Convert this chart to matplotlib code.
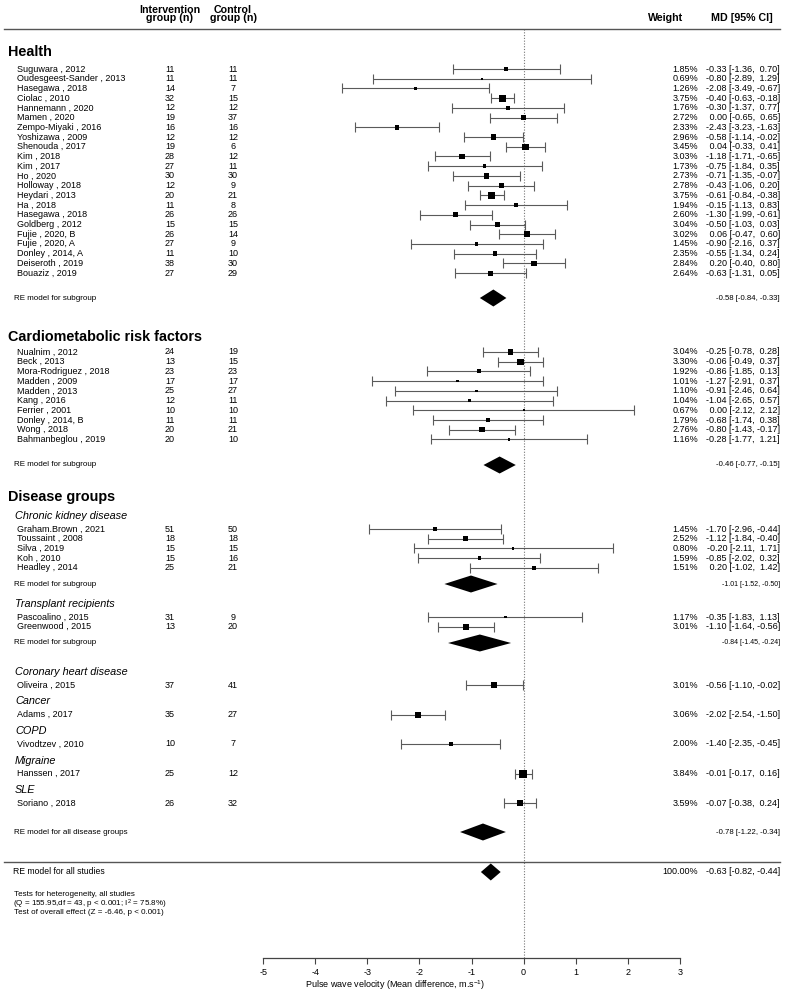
import matplotlib
matplotlib.use("Agg")
import matplotlib.pyplot as plt
import numpy as np

plt.rcParams['font.family'] = ['Liberation Sans', 'DejaVu Sans']
plt.rcParams['mathtext.default'] = 'regular'

# ---- data ----
health_names = ["Suguwara , 2012", "Oudesgeest-Sander , 2013", "Hasegawa , 2018", "Ciolac , 2010",
                "Hannemann , 2020", "Mamen , 2020", "Zempo-Miyaki , 2016", "Yoshizawa , 2009",
                "Shenouda , 2017", "Kim , 2018", "Kim , 2017", "Ho , 2020", "Holloway , 2018",
                "Heydari , 2013", "Ha , 2018", "Hasegawa , 2018", "Goldberg , 2012", "Fujie , 2020, B",
                "Fujie , 2020, A", "Donley , 2014, A", "Deiseroth , 2019", "Bouaziz , 2019"]
health_ni = [11, 11, 14, 32, 12, 19, 16, 12, 19, 28, 27, 30, 12, 20, 11, 26, 15, 26, 27, 11, 38, 27]
health_nc = [11, 11, 7, 15, 12, 37, 16, 12, 6, 12, 11, 30, 9, 21, 8, 26, 15, 14, 9, 10, 30, 29]
health_w = [1.85, 0.69, 1.26, 3.75, 1.76, 2.72, 2.33, 2.96, 3.45, 3.03, 1.73, 2.73, 2.78, 3.75,
            1.94, 2.60, 3.04, 3.02, 1.45, 2.35, 2.84, 2.64]
health_md = [-0.33, -0.80, -2.08, -0.40, -0.30, 0.00, -2.43, -0.58, 0.04, -1.18, -0.75, -0.71,
             -0.43, -0.61, -0.15, -1.30, -0.50, 0.06, -0.90, -0.55, 0.20, -0.63]
health_lo = [-1.36, -2.89, -3.49, -0.63, -1.37, -0.65, -3.23, -1.14, -0.33, -1.71, -1.84, -1.35,
             -1.06, -0.84, -1.13, -1.99, -1.03, -0.47, -2.16, -1.34, -0.40, -1.31]
health_hi = [0.70, 1.29, -0.67, -0.18, 0.77, 0.65, -1.63, -0.02, 0.41, -0.65, 0.35, -0.07,
             0.20, -0.38, 0.83, -0.61, 0.03, 0.60, 0.37, 0.24, 0.80, 0.05]
health_re = (-0.58, -0.84, -0.33)

cardio_names = ["Nualnim , 2012", "Beck , 2013", "Mora-Rodriguez , 2018", "Madden , 2009",
                "Madden , 2013", "Kang , 2016", "Ferrier , 2001", "Donley , 2014, B",
                "Wong , 2018", "Bahmanbeglou , 2019"]
cardio_ni = [24, 13, 23, 17, 25, 12, 10, 11, 20, 20]
cardio_nc = [19, 15, 23, 17, 27, 11, 10, 11, 21, 10]
cardio_w = [3.04, 3.30, 1.92, 1.01, 1.10, 1.04, 0.67, 1.79, 2.76, 1.16]
cardio_md = [-0.25, -0.06, -0.86, -1.27, -0.91, -1.04, 0.00, -0.68, -0.80, -0.28]
cardio_lo = [-0.78, -0.49, -1.85, -2.91, -2.46, -2.65, -2.12, -1.74, -1.43, -1.77]
cardio_hi = [0.28, 0.37, 0.13, 0.37, 0.64, 0.57, 2.12, 0.38, -0.17, 1.21]
cardio_re = (-0.46, -0.77, -0.15)

ckd_names = ["Graham.Brown , 2021", "Toussaint , 2008", "Silva , 2019", "Koh , 2010", "Headley , 2014"]
ckd_ni = [51, 18, 15, 15, 25]
ckd_nc = [50, 18, 15, 16, 21]
ckd_w = [1.45, 2.52, 0.80, 1.59, 1.51]
ckd_md = [-1.70, -1.12, -0.20, -0.85, 0.20]
ckd_lo = [-2.96, -1.84, -2.11, -2.02, -1.02]
ckd_hi = [-0.44, -0.40, 1.71, 0.32, 1.42]
ckd_re = (-1.01, -1.52, -0.50)

tx_names = ["Pascoalino , 2015", "Greenwood , 2015"]
tx_ni = [31, 13]
tx_nc = [9, 20]
tx_w = [1.17, 3.01]
tx_md = [-0.35, -1.10]
tx_lo = [-1.83, -1.64]
tx_hi = [1.13, -0.56]
tx_re = (-0.84, -1.45, -0.24)

single_groups = ["Coronary heart disease", "Cancer", "COPD", "Migraine", "SLE"]
single_names = ["Oliveira , 2015", "Adams , 2017", "Vivodtzev , 2010", "Hanssen , 2017", "Soriano , 2018"]
single_ni = [37, 35, 10, 25, 26]
single_nc = [41, 27, 7, 12, 32]
single_w = [3.01, 3.06, 2.00, 3.84, 3.59]
single_md = [-0.56, -2.02, -1.40, -0.01, -0.07]
single_lo = [-1.10, -2.54, -2.35, -0.17, -0.38]
single_hi = [-0.02, -1.50, -0.45, 0.16, 0.24]

disease_re = (-0.78, -1.22, -0.34)
overall_re = (-0.63, -0.82, -0.44)

xticks = [-5, -4, -3, -2, -1, 0, 1, 2, 3]

# ---- figure: one axes, x in MD units, y in pixel rows from the top ----
W, H = 790, 993
AXIS_Y = 958
PX_PER_UNIT = 52.1
X0_PX = 523.6

fig = plt.figure(figsize=(W / 100, H / 100), dpi=100)
ax = fig.add_axes([0, (H - AXIS_Y) / H, 1, AXIS_Y / H])
ax.set_xlim(-X0_PX / PX_PER_UNIT, (W - X0_PX) / PX_PER_UNIT)
ax.set_ylim(AXIS_Y, 0)
for s in ["top", "left", "right"]:
    ax.spines[s].set_visible(False)
ax.spines["bottom"].set_bounds(-5, 3)
ax.spines["bottom"].set_color("#444444")
ax.spines["bottom"].set_linewidth(0.9)
ax.set_yticks([])
ax.set_xticks(xticks)
ax.set_xticklabels([str(t) for t in xticks], fontsize=6.5)
ax.tick_params(axis="x", length=4, width=0.8, color="#444444", pad=3.5)
ax.set_xlabel("Pulse wave velocity (Mean difference, m.s$^{-1}$)", fontsize=6.5, labelpad=0.5)

yt = ax.get_yaxis_transform()   # x in axes fraction, y in data (pixels)


def col(px):
    return px / W


TXT = 6.5
ROW = 9.72


def study_rows(y0, names, ni, nc, w, md, lo, hi):
    ys = y0 + ROW * np.arange(len(names))
    for y, nm, a, b, wt, m, l, h in zip(ys, names, ni, nc, w, md, lo, hi):
        ax.text(col(17), y, nm, transform=yt, fontsize=TXT, va="center", ha="left")
        ax.text(col(170), y, str(a), transform=yt, fontsize=TXT, va="center", ha="center")
        ax.text(col(233), y, str(b), transform=yt, fontsize=TXT, va="center", ha="center")
        ax.text(col(698), y, f"{wt:.2f}%", transform=yt, fontsize=TXT, va="center", ha="right")
        ax.text(col(780), y, f"{m:5.2f} [{l:5.2f}, {h:5.2f}]", transform=yt, fontsize=TXT,
                va="center", ha="right")
    md = np.array(md)
    ax.errorbar(md, ys, xerr=[md - np.array(lo), np.array(hi) - md], fmt="none",
                ecolor="#5a5a5a", elinewidth=0.8, capsize=3.6, capthick=0.8)
    side_px = 0.9 + 1.6 * np.array(w)
    ax.scatter(md, ys, marker="s", s=(side_px * 0.72) ** 2, color="black", zorder=3, linewidths=0)
    return ys


def diamond(y, est, label, fs_label=5.8, fs_val=5.6, half_h=8.5):
    m, l, h = est
    ax.fill([l, m, h, m], [y, y - half_h, y, y + half_h], color="black", lw=0, zorder=3)
    ax.text(col(14), y, label, transform=yt, fontsize=fs_label, va="center", ha="left")
    ax.text(col(780), y, f"{m:.2f} [{l:.2f}, {h:.2f}]", transform=yt, fontsize=fs_val,
            va="center", ha="right")


def section(y, label):
    ax.text(col(8), y, label, transform=yt, fontsize=10.4, fontweight="bold", va="center", ha="left")


def subgroup(y, label):
    ax.text(col(15), y, label, transform=yt, fontsize=7.8, style="italic", va="center", ha="left")


# header
ax.text(col(170), 14, "Intervention\ngroup (n)", transform=yt, fontsize=7.7, fontweight="bold",
        ha="center", va="center", linespacing=0.85)
ax.text(col(233), 14, "Control\ngroup (n)", transform=yt, fontsize=7.7, fontweight="bold",
        ha="center", va="center", linespacing=0.85)
ax.text(col(666), 18, "Weight", transform=yt, fontsize=7.7, fontweight="bold", ha="center", va="center")
ax.text(col(742), 18, "MD [95% CI]", transform=yt, fontsize=7.7, fontweight="bold", ha="center", va="center")
ax.plot([col(4), col(780)], [29, 29], transform=yt, color="#555555", lw=1.0, clip_on=False)

# zero line
ax.plot([0, 0], [29, AXIS_Y], color="#777777", lw=0.8, ls=(0, (1, 1.5)), zorder=1)

# Health
section(52, "Health")
study_rows(69, health_names, health_ni, health_nc, health_w, health_md, health_lo, health_hi)
diamond(298, health_re, "RE model for subgroup")

# Cardiometabolic
section(337, "Cardiometabolic risk factors")
study_rows(352, cardio_names, cardio_ni, cardio_nc, cardio_w, cardio_md, cardio_lo, cardio_hi)
diamond(465, cardio_re, "RE model for subgroup")

# Disease groups
section(497, "Disease groups")
subgroup(516, "Chronic kidney disease")
study_rows(529, ckd_names, ckd_ni, ckd_nc, ckd_w, ckd_md, ckd_lo, ckd_hi)
diamond(584, ckd_re, "RE model for subgroup", fs_val=5.0)

subgroup(604, "Transplant recipients")
study_rows(617, tx_names, tx_ni, tx_nc, tx_w, tx_md, tx_lo, tx_hi)
diamond(643, tx_re, "RE model for subgroup", fs_val=5.0)

y = 672
for i, g in enumerate(single_groups):
    subgroup(y, g)
    study_rows(y + 13, [single_names[i]], [single_ni[i]], [single_nc[i]], [single_w[i]],
               [single_md[i]], [single_lo[i]], [single_hi[i]])
    y += 29.5

diamond(832, disease_re, "RE model for all disease groups")

# overall
ax.plot([col(4), col(780)], [862, 862], transform=yt, color="#555555", lw=1.0, clip_on=False)
m, l, h = overall_re
ax.fill([l, m, h, m], [872, 863.5, 872, 880.5], color="black", lw=0, zorder=3)
ax.text(col(13), 872, "RE model for all studies", transform=yt, fontsize=6.2, va="center", ha="left")
ax.text(col(698), 872, "100.00%", transform=yt, fontsize=TXT, va="center", ha="right")
ax.text(col(780), 872, f"{m:.2f} [{l:.2f}, {h:.2f}]", transform=yt, fontsize=TXT, va="center", ha="right")

ax.text(col(14), 895, "Tests for heterogeneity, all studies", transform=yt, fontsize=5.8,
        va="center", ha="left")
ax.text(col(13), 904, "(Q = 155.95,df = 43, p < 0.001; I$^2$ = 75.8%)", transform=yt, fontsize=5.8,
        va="center", ha="left")
ax.text(col(14), 913, "Test of overall effect (Z = -6.46, p < 0.001)", transform=yt, fontsize=5.8,
        va="center", ha="left")

fig.savefig("out.png", dpi=100)
